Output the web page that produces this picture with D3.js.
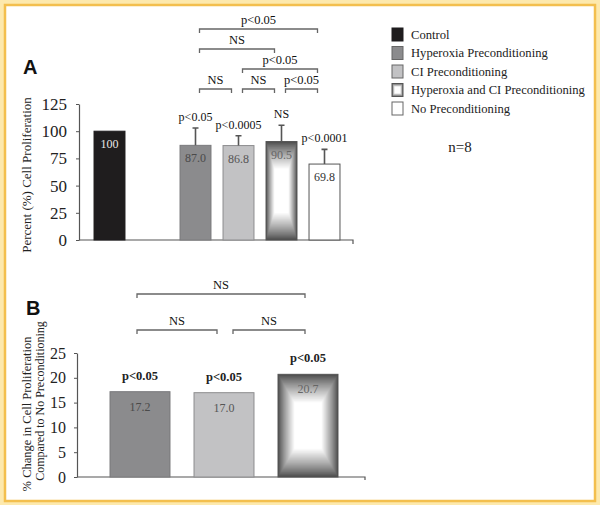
<!DOCTYPE html>
<html><head><meta charset="utf-8">
<script src="https://cdn.jsdelivr.net/npm/d3@7/dist/d3.min.js"></script>
<style>
html,body{margin:0;padding:0;background:#fff;}
#chart text{font-family:"Liberation Serif","Times New Roman",serif;}
#chart text.sans{font-family:"Liberation Sans",Arial,sans-serif;}
</style></head>
<body><svg id="chart" width="600" height="505"></svg>
<script>
// ---------- DATA ----------
const legendLabels = ["Control","Hyperoxia Preconditioning","CI Preconditioning","Hyperoxia and CI Preconditioning","No Preconditioning"];
const slotsA = ["Control","(gap)","Hyperoxia","CI","HypCI","None"];
const catsA = ["Control","Hyperoxia","CI","HypCI","None"];
const valuesA = [100, 87.0, 86.8, 90.5, 69.8];
const errorsA = [0, 16, 9, 15, 13.5];
const valueLabelsA = ["100","87.0","86.8","90.5","69.8"];
const sigLabelsA = ["", "p<0.05", "p<0.0005", "NS", "p<0.0001"];
const ticksA = [0,25,50,75,100,125];
// brackets: [from category, to category, label, level]
const bracketsA = [
  ["Hyperoxia","None","p<0.05",0],
  ["Hyperoxia","HypCI","NS",1],
  ["CI","None","p<0.05",2],
  ["Hyperoxia","CI","NS",3],
  ["CI","HypCI","NS",3],
  ["HypCI","None","p<0.05",3]
];
const catsB = ["Hyperoxia","CI","HypCI"];
const valuesB = [17.2, 17.0, 20.7];
const valueLabelsB = ["17.2","17.0","20.7"];
const sigLabelsB = ["p<0.05","p<0.05","p<0.05"];
const ticksB = [0,5,10,15,20,25];
const bracketsB = [
  ["Hyperoxia","HypCI","NS",0],
  ["Hyperoxia","CI","NS",1],
  ["CI","HypCI","NS",1]
];
const fills = {Control:"#1f1d1e", Hyperoxia:"#8b8b8d", CI:"#c2c2c4", HypCI:"gradient", None:"#ffffff"};
const strokes = {Control:"#1f1d1e", Hyperoxia:"#7a7a7c", CI:"#8d8d8f", HypCI:"#5a5a5a", None:"#555"};
const valueColors = {Control:"#e8e8e8", Hyperoxia:"#4a4a4a", CI:"#555", HypCI:"#666", None:"#333"};

// ---------- FRAME ----------
const svg = d3.select("#chart");
svg.append("rect").attr("width",600).attr("height",505).attr("fill","#fde9ad");
svg.append("rect").attr("x",5).attr("y",5).attr("width",590).attr("height",496)
  .attr("fill","#fff").attr("stroke","#f3bf4e").attr("stroke-width",2.5);

const axisColor = "#555";

function boxGradientBar(g, x, y, w, h){
  const N = 40, cx = x + w/2, cy = y + h/2;
  const col = d3.interpolateRgb("#4b4b4b", "#ffffff");
  for(let i=0;i<=N;i++){
    const s = 1 - (i/N)*0.55;
    g.append("rect").attr("x",cx - w*s/2).attr("y",cy - h*s/2)
      .attr("width",w*s).attr("height",h*s).attr("fill",col(Math.pow(i/N,0.85)));
  }
  g.append("rect").attr("x",x).attr("y",y).attr("width",w).attr("height",h)
    .attr("fill","none").attr("stroke","#555").attr("stroke-width",1);
}

function drawBracket(g, x1, x2, yy, label){
  g.append("path").attr("d",`M${x1},${yy+4}V${yy}H${x2}V${yy+4}`)
    .attr("fill","none").attr("stroke","#666").attr("stroke-width",1.3);
  g.append("text").attr("x",(x1+x2)/2).attr("y",yy-5).attr("text-anchor","middle")
    .attr("font-size",12.5).attr("fill","#111").text(label);
}

// ---------- PANEL A ----------
const yA = d3.scaleLinear().domain([0,125]).range([240,104]);
const xA = d3.scaleBand().domain(slotsA).range([88,346]).paddingInner(0.28).paddingOuter(0.14);
const gA = svg.append("g");
const axA = gA.append("g").attr("transform","translate(79,0)")
  .call(d3.axisLeft(yA).tickValues(ticksA).tickSize(3).tickSizeOuter(0).tickPadding(9));
axA.attr("font-family",null);
axA.select(".domain").attr("stroke",axisColor).attr("stroke-width",1.2);
axA.selectAll(".tick line").attr("stroke",axisColor);
axA.selectAll(".tick text").attr("font-size",17).attr("fill","#222");
const xEndA = xA.range()[1] + 7;
gA.append("path").attr("d",`M79,${yA(0)}H${xEndA}V${yA(0)+4}`).attr("fill","none").attr("stroke",axisColor).attr("stroke-width",1.2);

catsA.forEach((c,i)=>{
  const x = xA(c), w = xA.bandwidth(), top = yA(valuesA[i]), h = yA(0)-top;
  if(fills[c]==="gradient") boxGradientBar(gA,x,top,w,h);
  else gA.append("rect").attr("x",x).attr("y",top).attr("width",w).attr("height",h)
        .attr("fill",fills[c]).attr("stroke",strokes[c]).attr("stroke-width",1);
  const cx = x + w/2;
  if(errorsA[i]>0){
    const et = yA(valuesA[i]+errorsA[i]);
    gA.append("path").attr("d",`M${cx},${top}V${et}M${cx-3},${et}H${cx+3}`)
      .attr("stroke","#555").attr("stroke-width",1.6).attr("fill","none");
    gA.append("text").attr("x",cx).attr("y",et-7).attr("text-anchor","middle")
      .attr("font-size",12).attr("fill","#111").text(sigLabelsA[i]);
  }
  gA.append("text").attr("x",cx).attr("y",top+17).attr("text-anchor","middle")
    .attr("font-size",12).attr("fill",valueColors[c]).text(valueLabelsA[i]);
});
bracketsA.forEach(([a,b,lab,lev])=>{
  const x1 = xA(a)+xA.bandwidth()/2+4, x2 = xA(b)+xA.bandwidth()/2-7;
  drawBracket(gA,x1,x2,29+lev*20,lab);
});
gA.append("text").attr("transform","translate(31,175) rotate(-90)").attr("text-anchor","middle")
  .attr("font-size",13).attr("fill","#222").text("Percent (%) Cell Proliferation");
svg.append("text").attr("class","sans").attr("x",23).attr("y",74).attr("font-weight","bold")
  .attr("font-size",20).attr("fill","#111").text("A");

// ---------- LEGEND ----------
const leg = svg.append("g");
catsA.forEach((c,i)=>{
  const yy = 28 + i*18.5;
  if(fills[c]==="gradient") boxGradientBar(leg,392,yy,11,13);
  else leg.append("rect").attr("x",392).attr("y",yy).attr("width",11).attr("height",13)
      .attr("fill",fills[c]).attr("stroke",c==="Control"?"#1f1d1e":"#666").attr("stroke-width",1);
  leg.append("text").attr("x",411).attr("y",yy+10.5).attr("font-size",12.6).attr("fill","#222").text(legendLabels[i]);
});
svg.append("text").attr("x",460).attr("y",152).attr("text-anchor","middle").attr("font-size",15).attr("fill","#222").text("n=8");

// ---------- PANEL B ----------
const yB = d3.scaleLinear().domain([0,25]).range([477,353]);
const xB = d3.scaleBand().domain(catsB).range([98,350]).paddingInner(0.286).paddingOuter(0.143);
const gB = svg.append("g");
const axB = gB.append("g").attr("transform","translate(77,0)")
  .call(d3.axisLeft(yB).tickValues(ticksB).tickSize(3).tickSizeOuter(0).tickPadding(8));
axB.attr("font-family",null);
axB.select(".domain").attr("stroke",axisColor).attr("stroke-width",1.2);
axB.selectAll(".tick line").attr("stroke",axisColor);
axB.selectAll(".tick text").attr("font-size",16).attr("fill","#222");
const xEndB = xB.range()[1] + 15;
gB.append("path").attr("d",`M77,${yB(0)}H${xEndB}V${yB(0)+3}`).attr("fill","none").attr("stroke",axisColor).attr("stroke-width",1.2);

catsB.forEach((c,i)=>{
  const x = xB(c), w = xB.bandwidth(), top = yB(valuesB[i]), h = yB(0)-top;
  if(fills[c]==="gradient") boxGradientBar(gB,x,top,w,h);
  else gB.append("rect").attr("x",x).attr("y",top).attr("width",w).attr("height",h)
        .attr("fill",fills[c]).attr("stroke",strokes[c]).attr("stroke-width",1);
  const cx = x + w/2;
  gB.append("text").attr("x",cx).attr("y",top-12).attr("text-anchor","middle")
    .attr("font-size",12.5).attr("font-weight","bold").attr("fill","#222").text(sigLabelsB[i]);
  gB.append("text").attr("x",cx).attr("y",top+19).attr("text-anchor","middle")
    .attr("font-size",12).attr("fill",valueColors[c]).text(valueLabelsB[i]);
});
bracketsB.forEach(([a,b,lab,lev])=>{
  const x1 = xB(a)+xB.bandwidth()/2-3 + (lev===1 && a==="CI" ? 12 : 0);
  const x2 = xB(b)+xB.bandwidth()/2-3 - (lev===1 && b==="CI" ? 4 : 0);
  drawBracket(gB,x1,x2,294+lev*36,lab);
});
gB.append("text").attr("transform","translate(31,414) rotate(-90)").attr("text-anchor","middle")
  .attr("font-size",12.5).attr("fill","#222").text("% Change in Cell Proliferation");
gB.append("text").attr("transform","translate(44,401) rotate(-90)").attr("text-anchor","middle")
  .attr("font-size",12).attr("fill","#222").text("Compared to No Preconditioning");
svg.append("text").attr("class","sans").attr("x",26).attr("y",315).attr("font-weight","bold")
  .attr("font-size",20).attr("fill","#111").text("B");
</script></body></html>
